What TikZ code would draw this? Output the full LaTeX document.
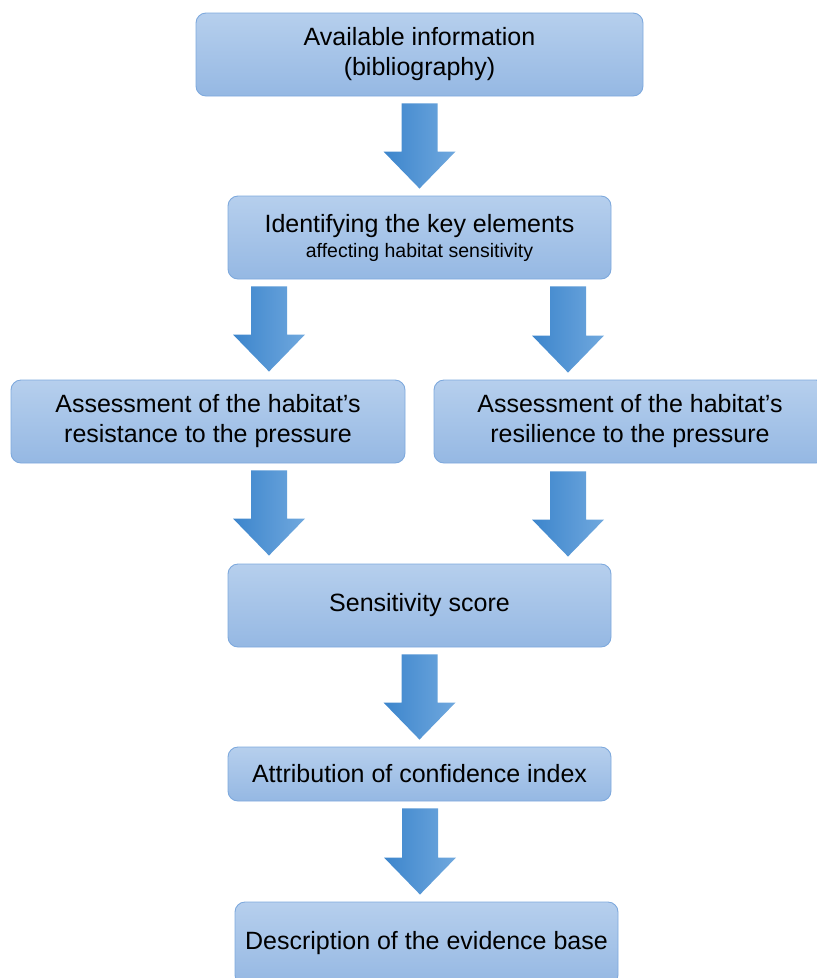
\documentclass[tikz,border=0pt]{standalone}
\usepackage{fontspec}
\setmainfont{Liberation Sans}
\usetikzlibrary{calc}

\definecolor{boxtop}{RGB}{182,207,237}
\definecolor{boxbottom}{RGB}{149,184,227}
\definecolor{boxline}{RGB}{126,169,221}
\definecolor{arrowleft}{RGB}{60,133,204}
\definecolor{arrowmid}{RGB}{82,152,218}
\definecolor{arrowright}{RGB}{112,168,222}

\begin{document}
\begin{tikzpicture}[
		x=1pt, y=-1pt,
		every node/.style={rectangle, rounded corners=10pt, draw=boxline, line width=0.9pt,
			top color=boxtop, bottom color=boxbottom, inner sep=0pt,
			align=center, font=\fontsize{25}{30}\selectfont},
		blockarrow/.style={left color=arrowleft, middle color=arrowmid, right color=arrowright,
			to path={let \p1=(\tikztostart), \p2=(\tikztotarget) in
				(\x1-18pt,\y1) -- (\x1+18pt,\y1) -- (\x1+18pt,\y2+37pt) -- (\x1+36pt,\y2+37pt)
				-- (\x1,\y2) -- (\x1-36pt,\y2+37pt) -- (\x1-18pt,\y2+37pt) -- cycle}}
	]
  \clip (0,0) rectangle (817,978);
  \node (avail) [minimum width=447pt, minimum height=83pt] at (419.5, 54.5) {Available information\\(bibliography)};
  \node (key) [minimum width=383pt, minimum height=83pt] at (419.5, 237.5) {Identifying the key elements\\[-5pt]{\fontsize{19.5}{23}\selectfont affecting habitat sensitivity}};
  \node (resist) [minimum width=394pt, minimum height=83pt] at (208, 421.5) {Assessment of the habitat’s\\resistance to the pressure};
  \node (resil) [minimum width=392pt, minimum height=83pt] at (630, 421.5) {Assessment of the habitat’s\\resilience to the pressure};
  \node (score) [minimum width=383pt, minimum height=83pt] at (419.5, 605.5) {Sensitivity score};
  \node (conf) [minimum width=383pt, minimum height=54pt] at (419.5, 774) {Attribution of confidence index};
  \node (evid) [minimum width=383pt, minimum height=83pt] at (426.5, 943.5) {Description of the evidence base};
  % block arrows
  \path[blockarrow] ([yshift=-7pt]avail.south) to ([yshift=7pt]key.north);
  \path[blockarrow] ([yshift=-7pt]key.south -| 269,0) to ([yshift=8pt]resist.north);
  \path[blockarrow] ([yshift=-7pt]key.south -| 568,0) to ([yshift=7pt]resil.north);
  \path[blockarrow] ([yshift=-7pt]resist.south -| 269,0) to ([yshift=8pt]score.north);
  \path[blockarrow] ([yshift=-8pt]resil.south -| 568,0) to ([yshift=7pt]score.north);
  \path[blockarrow] ([yshift=-7pt]score.south) to ([yshift=7pt]conf.north);
  \path[blockarrow] ([yshift=-7pt]conf.south -| 420,0) to ([yshift=7pt]evid.north);
\end{tikzpicture}
\end{document}
